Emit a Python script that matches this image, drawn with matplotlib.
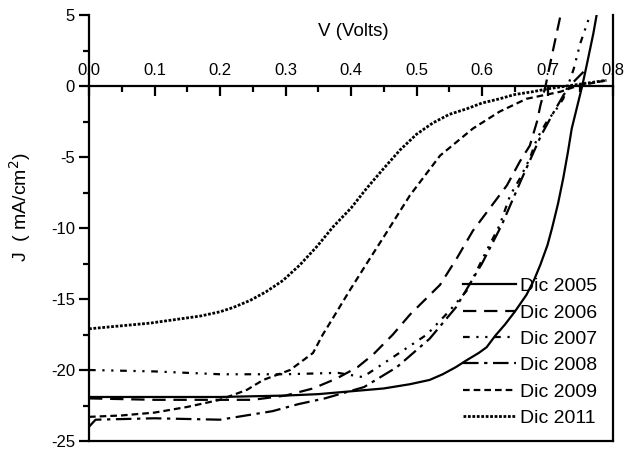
import matplotlib
matplotlib.use("Agg")
import matplotlib.pyplot as plt
from matplotlib.ticker import MultipleLocator, FormatStrFormatter

plt.rcParams['font.family'] = ['Liberation Sans', 'DejaVu Sans']
plt.rcParams['axes.unicode_minus'] = False

# ---- data ----
v_2005 = [0.0, 0.1, 0.2, 0.3, 0.35, 0.4, 0.45, 0.49, 0.52, 0.54, 0.56, 0.577, 0.595, 0.607, 0.62, 0.635, 0.65, 0.668, 0.68, 0.689, 0.7, 0.707, 0.716, 0.724, 0.731, 0.737, 0.745, 0.753, 0.76, 0.765, 0.77, 0.775]
j_2005 = [-21.9, -21.9, -21.9, -21.8, -21.7, -21.5, -21.3, -21.0, -20.7, -20.3, -19.8, -19.3, -18.8, -18.4, -17.6, -16.8, -15.9, -14.7, -13.6, -12.6, -11.2, -10.0, -8.3, -6.5, -4.7, -3.0, -1.5, 0.0, 1.5, 2.6, 3.7, 5.0]

v_2006 = [0.0, 0.1, 0.2, 0.25, 0.3, 0.342, 0.378, 0.41, 0.434, 0.464, 0.49, 0.536, 0.562, 0.586, 0.612, 0.638, 0.658, 0.673, 0.684, 0.689, 0.697, 0.706, 0.72]
j_2006 = [-22.0, -22.1, -22.1, -22.1, -21.8, -21.3, -20.6, -19.8, -18.9, -17.5, -16.1, -14.0, -12.1, -10.2, -8.6, -7.0, -5.3, -4.2, -2.5, -1.4, 0.0, 2.0, 5.0]

v_2007 = [0.0, 0.1, 0.2, 0.3, 0.38, 0.418, 0.464, 0.516, 0.551, 0.577, 0.607, 0.627, 0.643, 0.658, 0.673, 0.684, 0.699, 0.714, 0.724, 0.731, 0.74, 0.75, 0.765]
j_2007 = [-20.0, -20.1, -20.3, -20.3, -20.2, -20.5, -19.1, -17.5, -15.8, -14.4, -11.6, -9.8, -7.7, -6.5, -5.1, -3.7, -2.5, -1.6, -0.9, 0.0, 1.2, 3.0, 5.0]

v_2008 = [0.0, 0.01, 0.1, 0.2, 0.28, 0.32, 0.36, 0.42, 0.47, 0.52, 0.56, 0.6, 0.63, 0.66, 0.69, 0.71, 0.725, 0.74, 0.755]
j_2008 = [-24.0, -23.5, -23.4, -23.5, -22.9, -22.4, -22.0, -21.2, -19.8, -17.8, -15.6, -12.5, -9.8, -6.6, -3.5, -1.8, -0.6, 0.3, 1.0]

v_2009 = [0.0, 0.05, 0.1, 0.15, 0.2, 0.241, 0.266, 0.307, 0.342, 0.357, 0.373, 0.398, 0.424, 0.449, 0.49, 0.536, 0.586, 0.627, 0.668, 0.72, 0.745, 0.79]
j_2009 = [-23.3, -23.2, -23.0, -22.6, -22.1, -21.4, -20.7, -20.0, -18.8, -17.5, -16.3, -14.4, -12.5, -10.7, -7.7, -4.9, -3.0, -1.8, -0.9, -0.4, 0.0, 0.4]

v_2011 = [0.0, 0.093, 0.17, 0.2, 0.22, 0.246, 0.27, 0.296, 0.322, 0.348, 0.373, 0.4, 0.424, 0.45, 0.475, 0.5, 0.525, 0.55, 0.577, 0.6, 0.627, 0.65, 0.678, 0.7, 0.73, 0.76, 0.79]
j_2011 = [-17.1, -16.7, -16.2, -15.9, -15.6, -15.1, -14.5, -13.7, -12.6, -11.3, -9.9, -8.6, -7.2, -5.8, -4.5, -3.4, -2.6, -2.0, -1.6, -1.2, -0.9, -0.6, -0.4, -0.2, 0.0, 0.2, 0.4]

labels = ["Dic 2005", "Dic 2006", "Dic 2007", "Dic 2008", "Dic 2009", "Dic 2011"]

fig = plt.figure(figsize=(6.36, 4.5), dpi=100)
ax = fig.add_axes([89/636, 1-441/450, (613-89)/636, (441-15)/450])

lw = 1.6
ax.plot(v_2005, j_2005, color='black', lw=lw, ls='-', label=labels[0])
ax.plot(v_2006, j_2006, color='black', lw=lw, ls=(0, (6, 3.5)), label=labels[1])
ax.plot(v_2007, j_2007, color='black', lw=lw, ls=(0, (3, 3, 1, 3, 1, 3)), label=labels[2])
ax.plot(v_2008, j_2008, color='black', lw=lw, ls=(0, (7, 2.5, 1.5, 2.5)), label=labels[3])
ax.plot(v_2009, j_2009, color='black', lw=lw, ls=(0, (3, 1.8)), label=labels[4])
ax.plot(v_2011, j_2011, color='black', lw=2.0, ls=(0, (1, 0.6)), label=labels[5])

ax.set_xlim(0, 0.8)
ax.set_ylim(-25, 5)

# spines
for s in ['left', 'right', 'bottom', 'top']:
    ax.spines[s].set_linewidth(1.6)
ax.spines['top'].set_position(('data', 0))

ax.xaxis.tick_top()
ax.xaxis.set_major_locator(MultipleLocator(0.1))
ax.xaxis.set_minor_locator(MultipleLocator(0.05))
ax.xaxis.set_major_formatter(FormatStrFormatter('%.1f'))
ax.tick_params(axis='x', which='major', direction='in', length=7, width=1.6, labelsize=12, pad=6)
ax.tick_params(axis='x', which='minor', direction='in', length=4, width=1.6)

ax.yaxis.set_major_locator(MultipleLocator(5))
ax.yaxis.set_minor_locator(MultipleLocator(2.5))
ax.tick_params(axis='y', which='major', direction='out', length=7, width=1.6, labelsize=12, pad=3, right=False)
ax.tick_params(axis='y', which='minor', direction='out', length=4, width=1.6, right=False)

fig.text(353/636, 1-31/450, "V (Volts)", ha='center', va='center', fontsize=13.5)
fig.text(20/636, 1-207/450, "J  ( mA/cm$^2$)", ha='center', va='center', rotation=90, fontsize=14)

leg = ax.legend(loc='lower right', bbox_to_anchor=(597/636, 1-427/450), bbox_transform=fig.transFigure,
                frameon=False, fontsize=14, handlelength=2.7, handletextpad=0.2,
                labelspacing=0.45, borderpad=0.0, borderaxespad=0.0)

fig.savefig("out.png", dpi=100)
